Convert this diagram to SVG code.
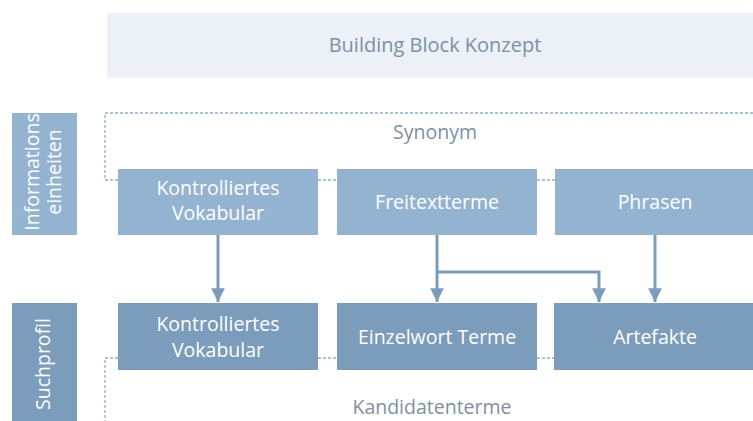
<svg xmlns="http://www.w3.org/2000/svg" width="753" height="421" viewBox="0 0 753 421">
<style>
.t{font-family:"Open Sans","Noto Sans",sans-serif;}
.w{fill:#ffffff;font-size:19.5px;text-anchor:middle;}
.g{fill:#7d90a4;text-anchor:middle;}
.r1{fill:#93b3d1;}
.r2{fill:#7b9cba;}
.dash{fill:none;stroke:#8fb0cf;stroke-width:1.3;stroke-dasharray:3 2;}
.c{fill:none;stroke:#7b9cba;stroke-width:3;}
</style>
<defs>
<marker id="ah" viewBox="0 0 10 10" refX="10" refY="5" markerWidth="4.6" markerHeight="4.6" orient="auto" markerUnits="strokeWidth">
<path d="M0,0 L10,5 L0,10 Z" fill="#7b9cba"/>
</marker>
</defs>
<rect width="753" height="421" fill="#ffffff"/>
<g id="title">
<rect x="107" y="13" width="646" height="65" fill="#ebf1f7"/>
<text class="t g" x="435" y="52" font-size="20">Building Block Konzept</text>
</g>
<g id="frames">
<path class="dash" d="M118,180 H105 V113 H753"/>
<path class="dash" d="M318,180 H337 M537,180 H555"/>
<text class="t g" x="435" y="139" font-size="19.5">Synonym</text>
<path class="dash" d="M118,358 H105 V421"/>
<path class="dash" d="M318,358 H337 M537,358 H554"/>
<text class="t g" x="432" y="414" font-size="19.5">Kandidatenterme</text>
</g>
<g id="label-informationseinheiten">
<rect class="r1" x="12" y="113" width="65" height="122"/>
<text class="t w" transform="translate(39,172) rotate(-90)" font-size="17">Informations</text>
<text class="t w" transform="translate(61,172) rotate(-90)" font-size="17">einheiten</text>
</g>
<g id="label-suchprofil">
<rect class="r2" x="12" y="303" width="65" height="118"/>
<text class="t w" transform="translate(50,364) rotate(-90)" font-size="16.5">Suchprofil</text>
</g>
<g id="n-kv1">
<rect class="r1" x="118" y="169" width="200" height="66"/>
<text class="t w" x="218" y="195">Kontrolliertes</text>
<text class="t w" x="218" y="220">Vokabular</text>
</g>
<g id="n-freitext">
<rect class="r1" x="337" y="169" width="200" height="66"/>
<text class="t w" x="437" y="209">Freitextterme</text>
</g>
<g id="n-phrasen">
<rect class="r1" x="555" y="169" width="198" height="66"/>
<text class="t w" x="655" y="209">Phrasen</text>
</g>
<g id="n-kv2">
<rect class="r2" x="118" y="303" width="200" height="67"/>
<text class="t w" x="218" y="331">Kontrolliertes</text>
<text class="t w" x="218" y="357">Vokabular</text>
</g>
<g id="n-einzelwort">
<rect class="r2" x="337" y="303" width="200" height="67"/>
<text class="t w" x="437" y="344">Einzelwort Terme</text>
</g>
<g id="n-artefakte">
<rect class="r2" x="554" y="303" width="199" height="67"/>
<text class="t w" x="655" y="344">Artefakte</text>
</g>
<g id="connectors">
<path class="c" d="M218,235 V302" marker-end="url(#ah)"/>
<path class="c" d="M437,235 V302" marker-end="url(#ah)"/>
<path class="c" d="M437,272 H599 V302" marker-end="url(#ah)"/>
<path class="c" d="M655,235 V302" marker-end="url(#ah)"/>
</g>
</svg>
